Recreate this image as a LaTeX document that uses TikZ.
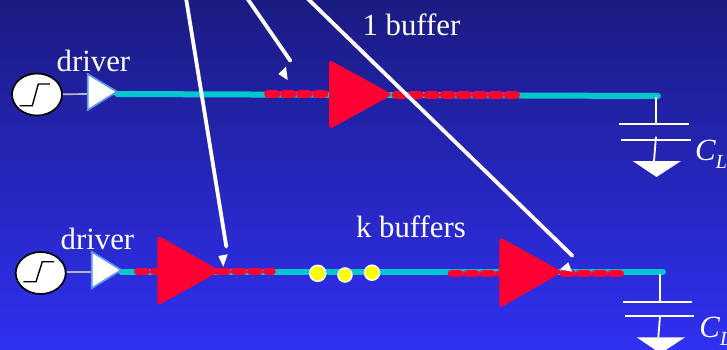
\documentclass[tikz,border=0pt]{standalone}
\usepackage{fontspec}
\setmainfont{Liberation Serif}
\definecolor{bgtop}{RGB}{27,27,130}
\definecolor{bgbot}{RGB}{48,48,242}
\definecolor{wirec}{RGB}{0,200,205}
\definecolor{redc}{RGB}{255,0,51}
\definecolor{drvedge}{RGB}{90,150,240}
\definecolor{graywire}{RGB}{185,185,195}
\definecolor{dotc}{RGB}{255,255,0}
\tikzset{
  x=1pt,y=-1pt,
  txt/.style={anchor=base west,inner sep=0pt,outer sep=0pt,text=white,font=\fontsize{30.8}{32}\selectfont},
  wire/.style={draw=wirec,line width=6pt,line cap=round},
  reddash/.style={draw=redc,line width=7.6pt,line cap=round,dash pattern=on 8.6pt off 7.4pt},
  redbuf/.style={fill=redc,draw=redc,line width=4pt,line join=round},
  drv/.style={fill=white,draw=drvedge,line width=1.7pt,line join=miter},
  src/.style={draw=black,fill=white,line width=1.7pt,ellipse,minimum width=50pt,minimum height=42pt,inner sep=0pt},
  stepl/.style={draw=black,line width=1.4pt},
  thin wire/.style={draw=graywire,line width=1.7pt},
  capl/.style={draw=white,line width=1.8pt},
  arrowl/.style={draw=white,line width=3.8pt,line cap=round},
  head/.style={fill=white},
  dot/.style={circle,fill=dotc,draw=white,line width=1.5pt,inner sep=0pt}
}
\usetikzlibrary{shapes.geometric}
\begin{document}
\begin{tikzpicture}
\useasboundingbox (0,0) rectangle (727,349);
\clip (0,0) rectangle (727,349);
\fill[top color=bgtop,bottom color=bgbot,middle color=bgtop!50!bgbot] (0,0) rectangle (727,349);

% top row
\coordinate (w1a) at (117,94);
\coordinate (w1b) at (658,96);
\node[src] (s1) at (37,94.5) {};
\coordinate (d1in) at (88,94);
\draw[thin wire] (s1) -- (d1in);
\draw[stepl] (19.5,105.7) -- (32.3,105.7) -- (38.3,84) -- (50,84);
\draw[wire] (w1a) -- (w1b);
\draw[drv] (87.7,74) -- (87.7,110) -- (117,91.7) -- cycle;
\draw[reddash] (268,94) -- (329,94);
\draw[reddash] (395.5,95) -- (520,95);
\draw[redbuf] (331,63) -- (331,126) -- (388.5,94.5) -- cycle;
\node[txt] (t1) at (56.7,71.7) {driver};
\node[txt] (t2) at (362.5,35.7) {1 buffer};

% capacitor 1
\coordinate (c1a) at (656,96.7);
\coordinate (c1b) at (656,123.7);
\draw[capl] (c1a) -- (c1b);
\draw[capl] (619,123.7) -- (688.7,123.7);
\draw[capl] (621,140) -- (690.7,140);
\draw[capl] (656,136.7) -- (654,161);
\fill[white] (632.7,161) -- (681,161) -- (656.5,177) -- cycle;
\node[txt] (cl1) at (695,160) {\textit{C}\raisebox{-8pt}{\fontsize{20}{22}\selectfont\textit{L}}};

% bottom row
\coordinate (w2a) at (121,271.5);
\coordinate (w2b) at (663,271.5);
\node[src] (s2) at (40.7,273) {};
\coordinate (d2in) at (92,271.7);
\draw[thin wire] (s2.east |- d2in) -- (d2in);
\draw[stepl] (23.3,281.7) -- (36,281.7) -- (42.3,261.7) -- (54,261.7);
\draw[wire] (w2a) -- (w2b);
\draw[drv] (91.7,251.7) -- (91.7,288.3) -- (121.3,270) -- cycle;
\draw[reddash] (137.8,271.5) -- (158,271.5);
\draw[reddash] (218.5,271.5) -- (272,271.5);
\draw[reddash] (451.5,273.5) -- (500,273.5);
\draw[reddash] (563.5,273.5) -- (621,273.5);
\draw[redbuf] (159.3,238.7) -- (159.3,302.3) -- (216.5,271) -- cycle;
\draw[redbuf] (501.3,240.3) -- (501.3,304.7) -- (558.5,272) -- cycle;
\node[dot,minimum size=16pt] (y1) at (317.7,273.3) {};
\node[dot,minimum size=14pt] (y2) at (345,275) {};
\node[dot,minimum size=15pt] (y3) at (372,272.7) {};
\node[txt] (t3) at (60.7,249.3) {driver};
\node[txt] (t4) at (356,237.7) {k buffers};

% capacitor 2
\coordinate (c2a) at (660,274.3);
\coordinate (c2b) at (660,301.7);
\draw[capl] (c2a) -- (c2b);
\draw[capl] (623.3,301.7) -- (692.3,301.7);
\draw[capl] (625,315.7) -- (694.3,315.7);
\draw[capl] (660,316.3) -- (658.3,337.3);
\fill[white] (636.7,337.3) -- (685,337.3) -- (660.5,353.5) -- cycle;
\node[txt] (cl2) at (699.3,337) {\textit{C}\raisebox{-8pt}{\fontsize{20}{22}\selectfont\textit{L}}};

% white arrows
\coordinate (a1s) at (186,-2);
\coordinate (a1e) at (226.3,246.5);
\coordinate (a2s) at (247,-2);
\coordinate (a2e) at (290.3,60.7);
\coordinate (a3s) at (307,-2);
\coordinate (a3e) at (572.3,255.7);
\draw[arrowl] (a1s) -- (a1e);
\draw[arrowl] (a2s) -- (a2e);
\draw[arrowl] (a3s) -- (a3e);
\fill[head] (218.3,256) -- (227.7,254.3) -- (223.3,266.7) -- cycle;
\fill[head] (278.3,74) -- (286,66.7) -- (287.7,80) -- cycle;
\fill[head] (560,269.3) -- (568.3,262.3) -- (572,271.7) -- cycle;
\end{tikzpicture}
\end{document}
